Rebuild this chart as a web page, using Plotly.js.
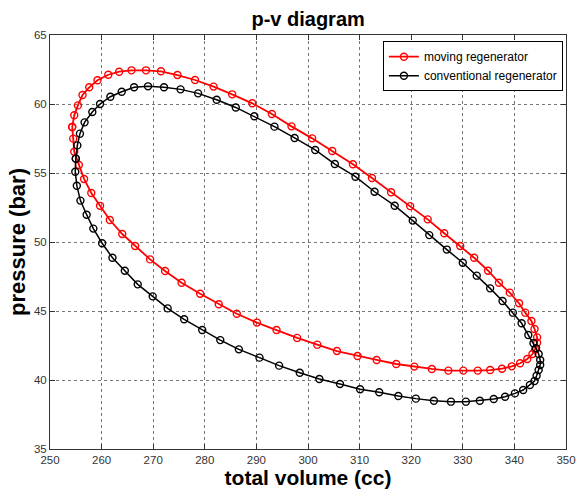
<!DOCTYPE html>
<html>
<head>
<meta charset="utf-8">
<script src="https://cdn.plot.ly/plotly-3.0.1.min.js"></script>
<style>html,body{margin:0;padding:0;background:#fff;}#chart{width:577px;height:495px;}</style>
</head>
<body>
<div id="chart"></div>
<script>
// Moving regenerator loop (volume cc, pressure bar)
const movingVolume = [254.3, 254.7, 255.4, 256.3, 257.6, 259.2, 261.3, 263.4, 265.8, 268.6, 271.5, 274.7, 278.1, 281.7, 285.3, 289.2, 293.0, 296.8, 300.8, 304.7, 308.7, 312.4, 316.1, 319.8, 323.2, 326.4, 329.5, 332.2, 334.9, 337.0, 339.1, 340.9, 342.1, 343.3, 343.9, 344.4, 344.4, 344.0, 343.5, 342.5, 341.1, 339.5, 337.6, 335.3, 332.9, 330.1, 327.2, 324.0, 320.6, 317.1, 313.3, 309.6, 305.6, 301.8, 297.9, 293.9, 290.1, 286.2, 282.7, 279.1, 275.5, 272.3, 269.4, 266.5, 264.0, 261.6, 259.7, 258.0, 256.6, 255.6, 254.7, 254.5];
const movingPressure = [58.33, 59.18, 59.90, 60.65, 61.21, 61.72, 62.12, 62.34, 62.44, 62.44, 62.37, 62.10, 61.74, 61.26, 60.70, 60.05, 59.28, 58.38, 57.51, 56.59, 55.63, 54.64, 53.60, 52.60, 51.64, 50.63, 49.71, 48.86, 47.92, 47.05, 46.33, 45.56, 44.88, 44.28, 43.70, 43.09, 42.70, 42.22, 41.88, 41.52, 41.21, 40.99, 40.82, 40.72, 40.68, 40.68, 40.68, 40.80, 40.97, 41.16, 41.45, 41.74, 42.10, 42.56, 43.05, 43.62, 44.16, 44.80, 45.49, 46.25, 47.05, 47.90, 48.74, 49.71, 50.58, 51.59, 52.62, 53.55, 54.57, 55.58, 56.54, 57.49];

// Conventional regenerator loop
const convVolume = [255.0, 255.3, 255.8, 256.7, 258.2, 259.7, 261.7, 263.9, 266.3, 269.0, 272.1, 275.3, 278.7, 282.3, 286.0, 289.6, 293.5, 297.4, 301.4, 305.2, 309.2, 312.9, 316.8, 320.3, 323.5, 326.9, 330.0, 332.7, 335.3, 337.7, 339.7, 341.4, 342.7, 343.7, 344.2, 344.7, 345.0, 345.0, 344.7, 344.3, 343.9, 343.0, 341.7, 340.1, 338.2, 336.0, 333.3, 330.6, 327.7, 324.4, 320.9, 317.5, 313.8, 310.1, 306.2, 302.2, 298.4, 294.4, 290.6, 286.6, 283.0, 279.5, 276.0, 272.8, 269.9, 267.0, 264.5, 262.1, 260.1, 258.4, 257.1, 255.9, 255.2, 254.9];
const convPressure = [56.04, 57.00, 57.85, 58.67, 59.42, 60.00, 60.53, 60.89, 61.21, 61.28, 61.21, 61.06, 60.77, 60.31, 59.75, 59.11, 58.36, 57.54, 56.67, 55.65, 54.73, 53.64, 52.63, 51.55, 50.50, 49.45, 48.50, 47.56, 46.64, 45.72, 44.88, 44.11, 43.26, 42.66, 42.30, 41.88, 41.45, 41.09, 40.72, 40.31, 39.93, 39.64, 39.27, 39.03, 38.79, 38.62, 38.50, 38.43, 38.43, 38.50, 38.65, 38.84, 39.11, 39.33, 39.71, 40.07, 40.53, 41.04, 41.62, 42.22, 42.89, 43.62, 44.40, 45.19, 46.06, 46.93, 47.92, 48.86, 49.91, 50.97, 51.98, 53.00, 54.08, 55.09];

const seriesNames = ["moving regenerator", "conventional regenerator"];
const xTicks = [250, 260, 270, 280, 290, 300, 310, 320, 330, 340, 350];
const yTicks = [35, 40, 45, 50, 55, 60, 65];

function closeLoop(a) { return a.concat([a[0]]); }

const FONT = "Liberation Sans, Arial, sans-serif";

const traces = [
  {
    x: closeLoop(movingVolume), y: closeLoop(movingPressure),
    name: seriesNames[0], type: "scatter", mode: "lines+markers",
    line: {color: "#ff0000", width: 1.8},
    marker: {symbol: "circle-open", size: 7, color: "#ff0000", line: {width: 1.4, color: "#ff0000"}}
  },
  {
    x: closeLoop(convVolume), y: closeLoop(convPressure),
    name: seriesNames[1], type: "scatter", mode: "lines+markers",
    line: {color: "#000000", width: 1.5},
    marker: {symbol: "circle-open", size: 7, color: "#000000", line: {width: 1.4, color: "#000000"}}
  }
];

const axisCommon = {
  showline: true, linecolor: "#333", linewidth: 1, mirror: "allticks",
  ticks: "inside", ticklen: 5, tickcolor: "#333", tickwidth: 1,
  showgrid: true, gridcolor: "#777", griddash: "dot", gridwidth: 1,
  zeroline: false, tickfont: {family: FONT, size: 11.5, color: "#333"}
};

const layout = {
  width: 577, height: 495,
  margin: {l: 50, r: 11, t: 35, b: 46},
  paper_bgcolor: "#fff", plot_bgcolor: "#fff",
  showlegend: true,
  title: {text: "<b>p-v diagram</b>", font: {family: FONT, size: 20, color: "#000"},
          x: 0.534, xanchor: "center", y: 0.962, yanchor: "middle", yref: "container"},
  xaxis: Object.assign({}, axisCommon, {
    range: [250, 350], tickvals: xTicks, ticktext: xTicks.map(String),
    title: {text: "<b>total volume (cc)</b>", font: {family: FONT, size: 21, color: "#000"}, standoff: 5}
  }),
  yaxis: Object.assign({}, axisCommon, {
    range: [35, 65], tickvals: yTicks, ticktext: yTicks.map(String),
    title: {text: "<b>pressure (bar)</b>", font: {family: FONT, size: 22, color: "#000"}, standoff: 2}
  }),
  legend: {
    x: 0.994, xanchor: "right", y: 0.985, yanchor: "top",
    bgcolor: "#fff", bordercolor: "#000", borderwidth: 1,
    font: {family: FONT, size: 12, color: "#000"},
    tracegroupgap: 0, itemwidth: 30
  }
};

Plotly.newPlot("chart", traces, layout, {displayModeBar: false, staticPlot: true});
</script>
</body>
</html>
